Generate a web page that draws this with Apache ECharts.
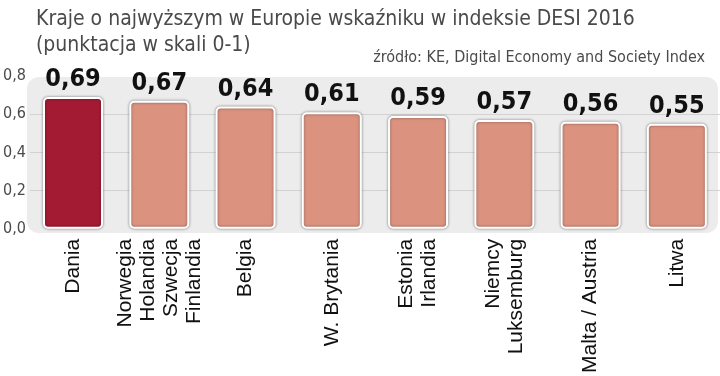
<!DOCTYPE html>
<html>
<head>
<meta charset="utf-8">
<script src="https://cdn.jsdelivr.net/npm/echarts@6/dist/echarts.min.js"></script>
<style>
  html, body { margin: 0; padding: 0; background: #fff; }
  #wykres { width: 720px; height: 376px; }
</style>
</head>
<body>
<div id="wykres"></div>
<script>
// Dane wykresu
const kraje = [
    'Dania',
    'Norwegia\nHolandia\nSzwecja\nFinlandia',
    'Belgia',
    'W. Brytania',
    'Estonia\nIrlandia',
    'Niemcy\nLuksemburg',
    'Malta / Austria',
    'Litwa'
];
const wartosci = [0.69, 0.67, 0.64, 0.61, 0.59, 0.57, 0.56, 0.55];
const podswietlony = 'Dania';
const osY = { min: 0, max: 0.8, interval: 0.2 };

const kolorGlowny = '#a31b33';
const kolorPozostale = '#db9380';
const fontWaski = 'Liberation Sans Narrow, DejaVu Sans Condensed, sans-serif';

const myChart = echarts.init(document.getElementById('wykres'));

// Słupki – pierwszy wyróżniony ciemnym kolorem
const daneSlupkow = wartosci.map((v, i) => ({
    value: v,
    itemStyle: { color: kraje[i] === podswietlony ? kolorGlowny : kolorPozostale }
}));

const option = {
    animation: false,
    backgroundColor: '#ffffff',
    title: [
        {
            text: 'Kraje o najwyższym w Europie wskaźniku w indeksie DESI 2016\n(punktacja w skali 0-1)',
            left: 31,
            top: 2,
            textStyle: {
                fontFamily: fontWaski,
                fontWeight: 'normal',
                fontSize: 21,
                lineHeight: 26,
                color: '#4a4a4a'
            }
        },
        {
            text: 'źródło: KE, Digital Economy and Society Index',
            right: 10,
            top: 45,
            textStyle: {
                fontFamily: fontWaski,
                fontWeight: 'normal',
                fontSize: 16,
                color: '#4a4a4a'
            }
        }
    ],
    // Szare tło pod słupkami
    graphic: [
        {
            type: 'rect',
            left: 27,
            top: 77,
            z: -1,
            shape: { width: 691, height: 156, r: 12 },
            style: { fill: '#ececec' }
        }
    ],
    grid: {
        left: 28,
        right: 0,
        top: 76,
        bottom: 147
    },
    xAxis: {
        type: 'category',
        data: kraje,
        axisLine: { show: false },
        axisTick: { show: false },
        axisLabel: {
            rotate: 90,
            margin: 10,
            fontFamily: 'Liberation Sans, Arial, sans-serif',
            fontSize: 21,
            lineHeight: 23,
            color: '#111111',
            interval: 0
        }
    },
    yAxis: {
        type: 'value',
        min: osY.min,
        max: osY.max,
        interval: osY.interval,
        axisLine: { show: false },
        axisTick: { show: false },
        axisLabel: {
            margin: 4,
            fontFamily: fontWaski,
            fontSize: 16,
            color: '#4a4a4a',
            formatter: v => v.toFixed(1).replace('.', ',')
        },
        splitLine: {
            // linie tylko dla 0,2 / 0,4 / 0,6
            lineStyle: {
                color: ['rgba(0,0,0,0)', '#d2d2d2', '#d2d2d2', '#d2d2d2', 'rgba(0,0,0,0)'],
                width: 1
            }
        }
    },
    series: [
        {
            type: 'bar',
            data: daneSlupkow,
            barWidth: 60,
            itemStyle: {
                borderColor: '#ffffff',
                borderWidth: 2,
                borderRadius: 4,
                shadowColor: 'rgba(0,0,0,0.4)',
                shadowBlur: 3
            },
            label: {
                show: true,
                position: 'top',
                distance: 5,
                fontFamily: fontWaski,
                fontWeight: 'bold',
                fontSize: 25,
                color: '#111111',
                formatter: p => p.value.toFixed(2).replace('.', ',')
            }
        }
    ]
};

myChart.setOption(option);
</script>
</body>
</html>
